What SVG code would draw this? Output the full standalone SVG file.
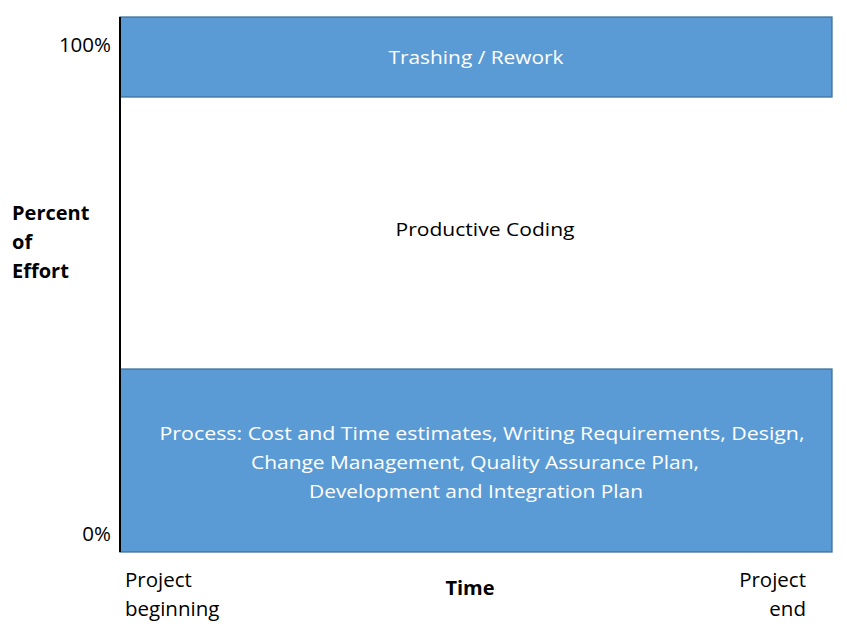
<svg xmlns="http://www.w3.org/2000/svg" width="847" height="630" viewBox="0 0 847 630">
<style>
.band{fill:#5B9BD5;stroke:#41719C;stroke-width:1.3}
text{font-family:"Open Sans","Liberation Sans",sans-serif;font-size:19px}
.lbl{font-size:20.5px}
.w{fill:#FFFFFF}
.k{fill:#000000}
.b{font-weight:bold;font-size:20px}
</style>
<rect width="847" height="630" fill="#FFFFFF"/>
<g id="trashing">
<rect class="band" x="120" y="17" width="712" height="80"/>
<text class="w" x="476" y="64" text-anchor="middle" textLength="175" lengthAdjust="spacingAndGlyphs">Trashing / Rework</text>
</g>
<g id="productive">
<text class="k" x="485" y="236" text-anchor="middle" textLength="179" lengthAdjust="spacingAndGlyphs">Productive Coding</text>
</g>
<g id="process">
<rect class="band" x="120" y="369" width="712" height="183"/>
<text class="w" x="482" y="440" text-anchor="middle" textLength="645" lengthAdjust="spacingAndGlyphs">Process:  Cost and Time estimates, Writing Requirements, Design,</text>
<text class="w" x="475" y="469" text-anchor="middle" textLength="448" lengthAdjust="spacingAndGlyphs">Change Management, Quality Assurance Plan,</text>
<text class="w" x="476" y="498" text-anchor="middle" textLength="334" lengthAdjust="spacingAndGlyphs">Development and Integration Plan</text>
</g>
<g id="axes">
<line x1="120" y1="17" x2="120" y2="552" stroke="#000000" stroke-width="2"/>
</g>
<g id="labels">
<text class="k lbl" x="111" y="52" text-anchor="end">100%</text>
<text class="k lbl" x="111" y="541" text-anchor="end">0%</text>
<text class="k b" x="12" y="220">Percent</text>
<text class="k b" x="12" y="249">of</text>
<text class="k b" x="12" y="278">Effort</text>
<text class="k lbl" x="125" y="587">Project</text>
<text class="k lbl" x="125" y="616">beginning</text>
<text class="k b" x="470" y="595" text-anchor="middle">Time</text>
<text class="k lbl" x="806" y="587" text-anchor="end">Project</text>
<text class="k lbl" x="806" y="616" text-anchor="end">end</text>
</g>
</svg>
